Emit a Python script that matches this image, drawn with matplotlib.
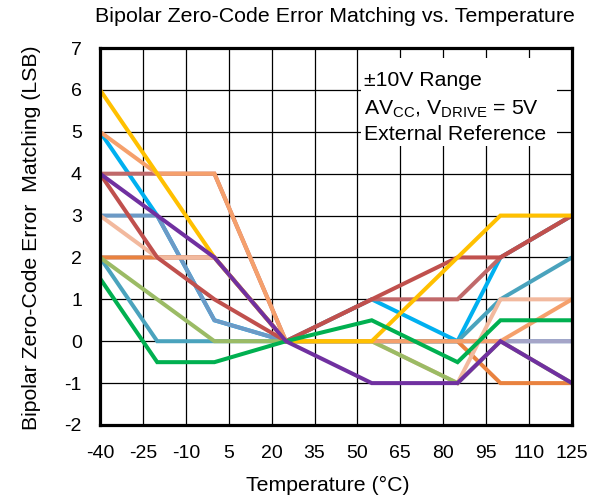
import matplotlib
matplotlib.use("Agg")
import matplotlib.pyplot as plt
from matplotlib.patches import Rectangle

plt.rcParams['font.family'] = ['Liberation Sans', 'DejaVu Sans']
plt.rcParams['mathtext.fontset'] = 'custom'
plt.rcParams['mathtext.rm'] = 'Liberation Sans'
plt.rcParams['axes.unicode_minus'] = False

# Temperature break points (°C) shared by every unit
temps = [-40, -20, 0, 25, 55, 85, 100, 125]

# Bipolar zero-code error matching per unit (LSB), in drawing order
unit_cyan     = [5, 3, 0.5, 0, 1, 0, 2, 3]
unit_rose     = [4, 4, 4, 0, 1, 1, 2, 3]
unit_steel    = [3, 3, 0.5, 0, 0, 0, 0, 0]
unit_lavender = [2, 2, 2, 0, 0, 0, 0, 0]
unit_orange   = [2, 2, 2, 0, 0, 0, -1, -1]
unit_teal     = [2, 0, 0, 0, 0, 0, 1, 2]
unit_peach    = [3, 2, 2, 0, 0, -1, 1, 1]
unit_olive    = [2, 1, 0, 0, 0, -1, 0, -1]
unit_salmon   = [5, 4, 4, 0, 0, 0, 0, 1]
unit_red      = [4, 2, 1, 0, 1, 2, 2, 3]
unit_gold     = [6, 4, 2, 0, 0, 2, 3, 3]
unit_green    = [1.5, -0.5, -0.5, 0, 0.5, -0.5, 0.5, 0.5]
unit_purple   = [4, 3, 2, 0, -1, -1, 0, -1]

series = [
    (unit_cyan, '#00B0F0'),
    (unit_rose, '#C0696A'),
    (unit_steel, '#6C9AC6'),
    (unit_lavender, '#A5A5C8'),
    (unit_orange, '#E9823F'),
    (unit_teal, '#4AA3BD'),
    (unit_peach, '#F2B99E'),
    (unit_olive, '#9BBB65'),
    (unit_salmon, '#F5A06C'),
    (unit_red, '#C0504D'),
    (unit_gold, '#FFC000'),
    (unit_green, '#00B050'),
    (unit_purple, '#7030A0'),
]

x_ticks = list(range(-40, 126, 15))
y_ticks = list(range(-2, 8))

fig = plt.figure(figsize=(6.01, 4.99), dpi=100)
ax = fig.add_axes([0.1664, 0.1483, 0.7853, 0.7555])

for vals, col in series:
    ax.plot(temps, vals, color=col, lw=2.9, solid_joinstyle='miter', zorder=3)

ax.set_xlim(-40, 125)
ax.set_ylim(-2, 7)
ax.set_xticks(x_ticks)
ax.set_yticks(y_ticks)
ax.grid(True, color='black', lw=0.9, zorder=1)
ax.set_axisbelow(True)
ax.tick_params(length=0, labelsize=14)
ax.tick_params(axis='x', pad=14.5)
ax.tick_params(axis='y', pad=13)
for sp in ax.spines.values():
    sp.set_linewidth(2.3)
    sp.set_zorder(5)

# white panel behind the test conditions
ax.add_patch(Rectangle((51.4, 4.65), 68.4, 2.1, facecolor='white',
                       edgecolor='none', zorder=2))
ax.text(52.3, 6.094, '±10V Range', fontsize=15.3, va='baseline', zorder=4)
ax.text(52.3, 5.426, r'AV$_{\mathregular{CC}}$, V$_{\mathregular{DRIVE}}$ = 5V',
        fontsize=15.3, va='baseline', zorder=4)
ax.text(52.3, 4.806, 'External Reference', fontsize=15.3, va='baseline', zorder=4)

fig.text(0.5566, 1 - 16 / 499, 'Bipolar Zero-Code Error Matching vs. Temperature',
         fontsize=15.4, ha='center', va='center')
fig.text(32 / 601, 1 - 238 / 499, 'Bipolar Zero-Code Error  Matching (LSB)',
         fontsize=15.3, rotation=90, ha='center', va='center')
fig.text(328 / 601, 1 - 485 / 499, 'Temperature (°C)',
         fontsize=15.3, ha='center', va='center')

fig.savefig('out.png', dpi=100)
